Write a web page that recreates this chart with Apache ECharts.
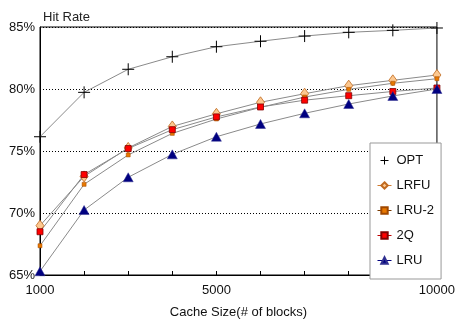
<!DOCTYPE html>
<html><head><meta charset="utf-8">
<script src="https://cdn.jsdelivr.net/npm/echarts@6/dist/echarts.min.js"></script>
<style>html,body{margin:0;padding:0;background:#fff}#c{width:458px;height:326px}</style>
</head><body><div id="c"></div>
<script>
const cacheSizes = [1000, 2000, 3000, 4000, 5000, 6000, 7000, 8000, 9000, 10000];
const xTickLabels = [1000, 5000, 10000];
const seriesNames = ['OPT', 'LRFU', 'LRU-2', '2Q', 'LRU'];
const optVals  = [76.15, 79.73, 81.59, 82.60, 83.41, 83.85, 84.27, 84.57, 84.73, 84.92];
const lrfuVals = [68.98, 72.95, 75.25, 76.98, 78.00, 78.93, 79.62, 80.27, 80.70, 81.13];
const lru2Vals = [67.36, 72.31, 74.68, 76.42, 77.58, 78.52, 79.35, 79.97, 80.46, 80.83];
const q2Vals   = [68.49, 73.10, 75.20, 76.72, 77.75, 78.55, 79.10, 79.46, 79.80, 80.08];
const lruVals  = [65.30, 70.24, 72.88, 74.73, 76.15, 77.18, 78.04, 78.79, 79.44, 80.00];

const FONT = '"Liberation Sans", Arial, sans-serif';
const pairs = v => cacheSizes.map((x, i) => [x, v[i]]);

const styles = {
  'OPT':   {symbol: 'path://M0,6H12M6,0V12', size: 12, color: 'none', border: '#000', bw: 1, legendLine: 'rgba(0,0,0,0)'},
  'LRFU':  {symbol: 'diamond', size: [8, 11], color: '#fcc890', border: '#c06a20', bw: 0.8, legendLine: '#d07a30'},
  'LRU-2': {symbol: 'rect', size: 4, color: '#e87800', border: '#a04800', bw: 0.5, legendLine: '#7a3a00'},
  '2Q':    {symbol: 'rect', size: 6, color: '#ff0000', border: '#800000', bw: 0.8, legendLine: '#c00000'},
  'LRU':   {symbol: 'triangle', size: [10, 9], color: '#000080', border: '#303090', bw: 0.5, legendLine: '#000080'}
};
const valsByName = {'OPT': optVals, 'LRFU': lrfuVals, 'LRU-2': lru2Vals, '2Q': q2Vals, 'LRU': lruVals};

const series = seriesNames.map(n => {
  const s = styles[n];
  return {
    name: n, type: 'line', data: pairs(valsByName[n]),
    symbol: s.symbol, symbolSize: s.size, showSymbol: true,
    lineStyle: {color: '#8a8a8a', width: 1},
    itemStyle: {color: s.color, borderColor: s.border, borderWidth: s.bw},
    emphasis: {disabled: true},
    z: 2
  };
});

const legendData = seriesNames.map(n => {
  const item = {name: n, lineStyle: {color: styles[n].legendLine, width: 1}};
  if (n === 'OPT') {
    item.icon = 'path://M0,5.5H11M5.5,0V11';
    item.itemStyle = {color: 'none', borderColor: '#000', borderWidth: 1};
  }
  return item;
});

const chart = echarts.init(document.getElementById('c'));
chart.setOption({
  animation: false,
  textStyle: {fontFamily: FONT},
  title: {text: 'Hit Rate', left: 38, top: 6, textStyle: {fontFamily: FONT, fontSize: 13, fontWeight: 'normal', color: '#222'}},
  grid: {left: 40, right: 18, top: 27, bottom: 51, show: true, borderColor: '#000', borderWidth: 1, backgroundColor: 'transparent'},
  legend: {
    orient: 'vertical', left: 370, top: 143,
    padding: [11, 7, 12, 7], itemGap: 12, itemWidth: 14, itemHeight: 8,
    backgroundColor: '#fff', borderColor: '#999', borderWidth: 1,
    textStyle: {fontFamily: FONT, fontSize: 13, color: '#111'},
    data: legendData,
    selectedMode: false
  },
  xAxis: {
    type: 'value', min: 1000, max: 10000, interval: 1000,
    name: 'Cache Size(# of blocks)', nameLocation: 'middle', nameGap: 31,
    nameTextStyle: {fontFamily: FONT, fontSize: 13, color: '#111'},
    axisLine: {lineStyle: {color: '#000', width: 1}},
    axisTick: {inside: true, length: 4, lineStyle: {color: '#000'}},
    axisLabel: {margin: 9, fontFamily: FONT, fontSize: 13, color: '#111',
      formatter: v => xTickLabels.indexOf(v) >= 0 ? String(v) : ''},
    splitLine: {show: false}
  },
  yAxis: {
    type: 'value', min: 65, max: 85, interval: 5,
    axisLine: {show: true, lineStyle: {color: '#000', width: 1}},
    axisTick: {show: false},
    axisLabel: {margin: 5, fontFamily: FONT, fontSize: 13, color: '#111', formatter: v => v + '%'},
    splitLine: {show: true, lineStyle: {color: '#000', width: 1, type: [1, 2]}}
  },
  series: series
});
</script>
</body></html>
